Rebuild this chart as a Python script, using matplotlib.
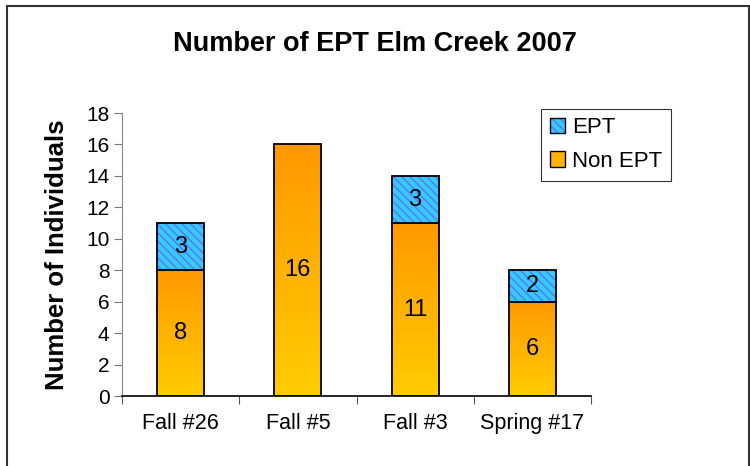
import matplotlib.pyplot as plt
import numpy as np
from matplotlib.colors import LinearSegmentedColormap
from matplotlib.patches import Rectangle, Patch

plt.rcParams['font.family'] = ['Liberation Sans', 'DejaVu Sans']
plt.rcParams['hatch.linewidth'] = 1.0

# data
sites = ['Fall #26', 'Fall #5', 'Fall #3', 'Spring #17']
non_ept = [8, 16, 11, 6]
ept = [3, 0, 3, 2]

fig = plt.figure(figsize=(7.5, 4.66), dpi=100)
ax = fig.add_axes([0.1627, 0.150, 0.6253, 0.6075])

# outer chart border
fig.patches.append(Rectangle((0.009, -0.02), 0.989, 1.007, transform=fig.transFigure,
                             fill=False, edgecolor='#333333', linewidth=1.5))

grad = LinearSegmentedColormap.from_list('oy', ['#ffcc00', '#ff9900'])
gimg = np.linspace(0, 1, 100).reshape(-1, 1)
hatch_col = '#6070ff'
blue = '#33ccff'
hatch = '\\\\\\\\'

width = 0.4
x = np.arange(len(sites))
for i in range(len(sites)):
    x0 = x[i] - width / 2
    # non EPT segment with vertical gradient
    ax.imshow(gimg, cmap=grad, origin='lower', aspect='auto',
              extent=[x0, x0 + width, 0, non_ept[i]], zorder=2)
    ax.add_patch(Rectangle((x0, 0), width, non_ept[i], fill=False,
                           edgecolor='black', linewidth=1.3, zorder=3))
    ax.text(x[i], non_ept[i] / 2, str(non_ept[i]), ha='center', va='center',
            fontsize=17, zorder=4)
    if ept[i] > 0:
        ax.add_patch(Rectangle((x0, non_ept[i]), width, ept[i], facecolor=blue,
                               hatch=hatch, edgecolor=hatch_col, linewidth=0, zorder=2))
        ax.add_patch(Rectangle((x0, non_ept[i]), width, ept[i], fill=False,
                               edgecolor='black', linewidth=1.3, zorder=3))
        ax.text(x[i], non_ept[i] + ept[i] / 2, str(ept[i]), ha='center', va='center',
                fontsize=17, zorder=4)

ax.set_xlim(-0.5, len(sites) - 0.5)
ax.set_ylim(0, 18)
ax.set_yticks(range(0, 19, 2))
ax.set_xticks(np.arange(-0.5, len(sites), 1.0))
ax.set_xticklabels([])
ax.set_xticks(x, sites, minor=True)
ax.tick_params(axis='x', which='minor', length=0, labelsize=15.5, pad=12)
ax.tick_params(axis='x', which='major', length=6, color='#555555', direction='out')
ax.tick_params(axis='y', length=6, color='#777777', labelsize=15, pad=3)

for s in ['top', 'right']:
    ax.spines[s].set_visible(False)
ax.spines['left'].set_color('#888888')
ax.spines['bottom'].set_color('black')
ax.spines['bottom'].set_linewidth(1.2)

ax.set_ylabel('Number of Individuals', fontsize=18.5, fontweight='bold', labelpad=12)
fig.text(0.5, 0.905, 'Number of EPT Elm Creek 2007', ha='center', va='center',
         fontsize=19.5, fontweight='bold')

ept_h = (Patch(facecolor=blue, hatch=hatch, edgecolor=hatch_col, linewidth=0),
         Patch(fill=False, edgecolor='black'))
handles = [ept_h, Patch(facecolor='#ffb300', edgecolor='black')]
leg = fig.legend(handles=handles, labels=['EPT', 'Non EPT'], loc='upper left',
                 bbox_to_anchor=(0.721, 0.767), fontsize=16, frameon=True, fancybox=False,
                 handlelength=0.7, handleheight=0.7, handletextpad=0.3, borderpad=0.4,
                 labelspacing=0.55, borderaxespad=0)
leg.get_frame().set_edgecolor('black')
leg.get_frame().set_linewidth(0.8)

fig.savefig('out.png', dpi=100)
